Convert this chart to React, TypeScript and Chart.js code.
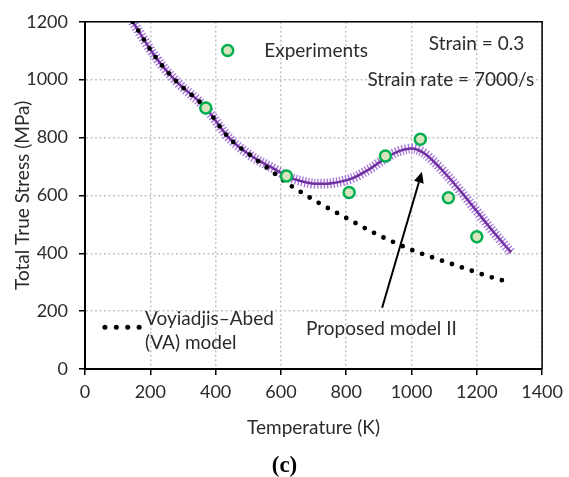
import React, { useEffect, useRef } from 'react';
import { Chart, registerables } from 'chart.js';
Chart.register(...registerables);

// Experiments (temperature K, stress MPa)
const expT = [370, 617, 809, 920, 1027, 1113, 1200];
const expS = [902, 667, 610, 736, 794, 592, 457];

// Voyiadjis–Abed (VA) model
const vaT = [146, 218, 278, 370, 440, 511, 571, 622, 652, 710, 797, 886, 946, 1006, 1038, 1134, 1199, 1228, 1292];
const vaS = [1200, 1075, 996, 902, 800, 735, 684, 640, 618, 578, 524, 470, 438, 409, 396, 359, 334, 323, 302];

// Proposed model II
const pmT = [146, 218, 278, 370, 440, 511, 582, 617, 660, 713, 760, 820, 870, 920, 960, 1000, 1040, 1067, 1100, 1150, 1200, 1250, 1305];
const pmS = [1200, 1075, 996, 902, 800, 735, 690, 667, 650, 640, 643, 660, 690, 728, 752, 762, 745, 718, 680, 615, 545, 475, 403];

const xTicks = [0, 200, 400, 600, 800, 1000, 1200, 1400];
const yTicks = [0, 200, 400, 600, 800, 1000, 1200];

const FONT = "Lato, 'Open Sans', sans-serif";
const TXT = '#2b2b2b';
const TEXT_SIZE = 19;
const TICK_SIZE = 18;

const pts = (xs: number[], ys: number[]) => xs.map((x, i) => ({ x, y: ys[i] }));

const overlay = {
  id: 'overlay',
  afterDraw(chart: any) {
    const { ctx, chartArea: a, scales } = chart;
    const x = scales.x, y = scales.y;
    const px = (v: number) => x.getPixelForValue(v);
    const py = (v: number) => y.getPixelForValue(v);
    ctx.save();
    // frame top/right
    ctx.strokeStyle = '#000';
    ctx.lineWidth = 1.5;
    ctx.beginPath();
    ctx.moveTo(a.left, a.top);
    ctx.lineTo(a.right, a.top);
    ctx.lineTo(a.right, a.bottom);
    ctx.stroke();

    ctx.fillStyle = TXT;
    ctx.font = `${TEXT_SIZE}px ${FONT}`;
    ctx.textBaseline = 'middle';
    ctx.textAlign = 'left';

    // Experiments legend
    ctx.beginPath();
    ctx.arc(px(437), py(1101), 5.5, 0, Math.PI * 2);
    ctx.fillStyle = '#d7e4bd';
    ctx.fill();
    ctx.lineWidth = 2.5;
    ctx.strokeStyle = '#00b050';
    ctx.stroke();
    ctx.fillStyle = TXT;
    ctx.fillText('Experiments', px(549), py(1098));

    ctx.fillText('Strain = 0.3', px(1053), py(1122));
    ctx.fillText('Strain rate = 7000/s', px(865), py(1001));

    // VA legend
    ctx.fillStyle = '#000';
    for (let i = 0; i < 4; i++) {
      ctx.beginPath();
      ctx.arc(px(61) + i * 11.4, py(144), 2.5, 0, Math.PI * 2);
      ctx.fill();
    }
    ctx.fillStyle = TXT;
    ctx.fillText('Voyiadjis\u2013Abed', px(184), py(174));
    ctx.fillText('(VA) model', px(184), py(90));

    ctx.fillText('Proposed model II', px(677), py(140));

    // arrow
    const x0 = px(910), y0 = py(212), x1 = px(1032), y1 = py(682);
    const ang = Math.atan2(y1 - y0, x1 - x0);
    const hl = 11, hw = 5;
    const bx = x1 - hl * Math.cos(ang), by = y1 - hl * Math.sin(ang);
    ctx.strokeStyle = '#000';
    ctx.lineWidth = 2;
    ctx.beginPath();
    ctx.moveTo(x0, y0);
    ctx.lineTo(bx, by);
    ctx.stroke();
    ctx.fillStyle = '#000';
    ctx.beginPath();
    ctx.moveTo(x1, y1);
    ctx.lineTo(bx + hw * Math.sin(ang), by - hw * Math.cos(ang));
    ctx.lineTo(bx - hw * Math.sin(ang), by + hw * Math.cos(ang));
    ctx.closePath();
    ctx.fill();

    // caption
    ctx.fillStyle = '#000';
    ctx.textAlign = 'center';
    ctx.font = `bold 23px 'Liberation Serif', serif`;
    ctx.fillText('(c)', chart.width / 2, 466);
    ctx.restore();
  },
};

export default function App() {
  const ref = useRef<HTMLCanvasElement>(null);
  useEffect(() => {
    const c = ref.current!;
    const axisCommon = {
      type: 'linear' as const,
      grid: {
        color: '#c4c4c4',
        lineWidth: 1.5,
        tickLength: 6,
        tickColor: '#000',
        tickWidth: 1.5,
        tickBorderDash: [],
      },
      border: { color: '#000', width: 2, dash: [2, 2.5] },
    };
    const chart = new Chart(c, {
      type: 'line',
      data: {
        datasets: [
          {
            label: 'Experiments',
            data: pts(expT, expS),
            showLine: false,
            pointRadius: 5.5,
            pointBorderWidth: 2.5,
            pointBackgroundColor: '#d7e4bd',
            pointBorderColor: '#00b050',
            order: 0,
          },
          {
            label: 'VA',
            data: pts(vaT, vaS),
            borderColor: '#000',
            borderWidth: 4.8,
            borderDash: [0, 10.5],
            borderCapStyle: 'round',
            pointRadius: 0,
            cubicInterpolationMode: 'monotone',
            order: 1,
          },
          {
            label: 'Proposed model II',
            data: pts(pmT, pmS),
            borderColor: '#7030a0',
            borderWidth: 2.5,
            pointRadius: 0,
            cubicInterpolationMode: 'monotone',
            order: 2,
          },
          {
            label: 'Proposed model II markers',
            data: pts(pmT, pmS),
            borderColor: 'rgba(155,100,215,0.9)',
            borderWidth: 10,
            borderDash: [1.3, 1.9],
            pointRadius: 0,
            cubicInterpolationMode: 'monotone',
            order: 3,
          },
        ],
      },
      options: {
        animation: false,
        responsive: false,
        devicePixelRatio: 1,
        layout: { padding: { left: 0, top: 17, right: 23, bottom: 24 } },
        plugins: { legend: { display: false }, tooltip: { enabled: false }, title: { display: false } },
        scales: {
          x: {
            ...axisCommon,
            min: 0,
            max: 1400,
            afterBuildTicks: (s: any) => { s.ticks = xTicks.map((v) => ({ value: v })); },
            afterFit: (s: any) => { s.height = 84; },
            ticks: {
              font: { size: TICK_SIZE, family: FONT },
              color: TXT,
              padding: 6,
              maxRotation: 0,
              callback: (v: any) => String(v),
            },
            title: {
              display: true,
              text: 'Temperature (K)',
              font: { size: TEXT_SIZE, family: FONT },
              color: TXT,
              padding: { top: 0, bottom: 13.5 },
            },
          },
          y: {
            ...axisCommon,
            min: 0,
            max: 1200,
            afterBuildTicks: (s: any) => { s.ticks = yTicks.map((v) => ({ value: v })); },
            afterFit: (s: any) => { s.width = 85; },
            ticks: {
              font: { size: TICK_SIZE, family: FONT },
              color: TXT,
              padding: 11,
              callback: (v: any) => String(v),
            },
            title: {
              display: true,
              text: 'Total True Stress (MPa)',
              font: { size: TEXT_SIZE, family: FONT },
              color: TXT,
              padding: { top: 11, bottom: 0 },
            },
          },
        },
      },
      plugins: [overlay],
    } as any);
    return () => chart.destroy();
  }, []);
  return (
    <div style={{ position: 'absolute', left: 0, top: 0, width: 569, height: 477, background: '#fff' }}>
      <canvas ref={ref} width={569} height={477} />
    </div>
  );
}
